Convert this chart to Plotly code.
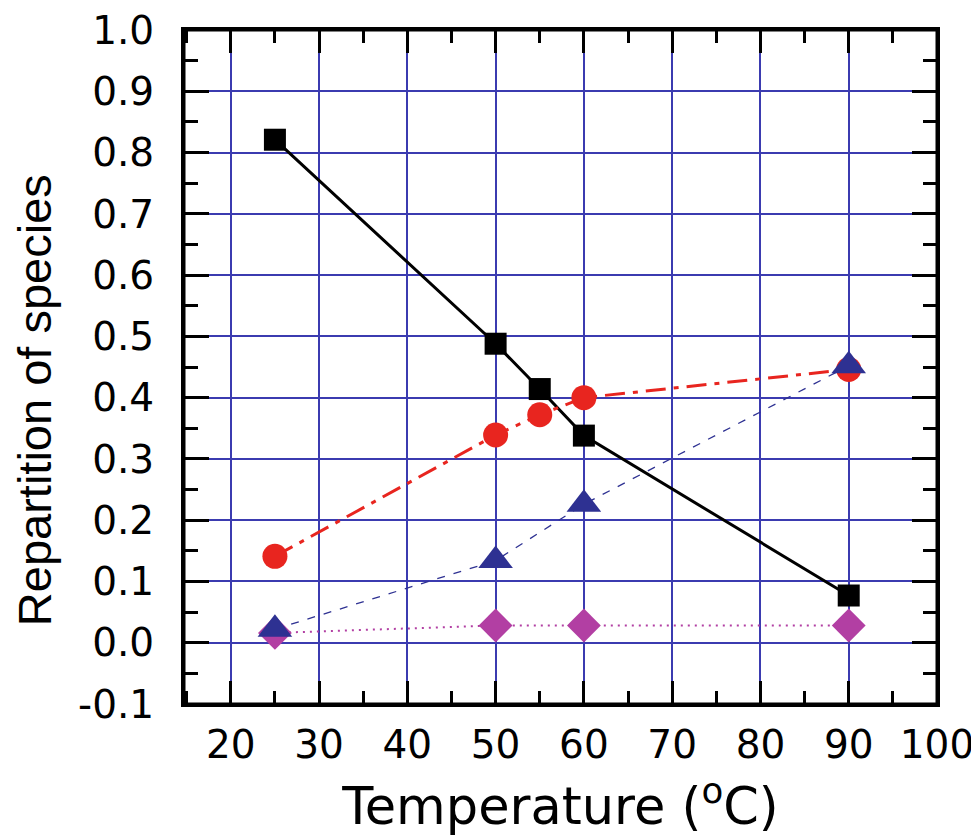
import plotly.graph_objects as go

temp_sq = [25, 50, 55, 60, 90]
sq_vals = [0.821, 0.488, 0.414, 0.338, 0.077]

temp_ci = [25, 50, 55, 60, 90]
ci_vals = [0.141, 0.339, 0.372, 0.400, 0.446]

temp_tr = [25, 50, 60, 90]
tr_vals = [0.022, 0.134, 0.226, 0.452]

temp_di = [25, 50, 60, 90]
di_vals = [0.016, 0.028, 0.028, 0.028]

x_ticks = [20, 30, 40, 50, 60, 70, 80, 90, 100]
y_ticks = [-0.1, 0.0, 0.1, 0.2, 0.3, 0.4, 0.5, 0.6, 0.7, 0.8, 0.9, 1.0]
y_ticktext = ["-0.1", "0.0", "0.1", "0.2", "0.3", "0.4", "0.5", "0.6", "0.7", "0.8", "0.9", "1.0"]

BLACK = "#000000"
RED = "#e8251f"
BLUE = "#2e3192"
MAGENTA = "#b23fa3"
GRID = "#3b3bb0"

fig = go.Figure()

fig.add_trace(go.Scatter(
    x=temp_sq, y=sq_vals, mode="lines+markers",
    line=dict(color=BLACK, width=3),
    marker=dict(symbol="square", size=22, color=BLACK),
    showlegend=False))

fig.add_trace(go.Scatter(
    x=temp_ci, y=ci_vals, mode="lines+markers",
    line=dict(color=RED, width=3, dash="20px,8px,5px,8px"),
    marker=dict(symbol="circle", size=25, color=RED),
    showlegend=False))

fig.add_trace(go.Scatter(
    x=temp_di, y=di_vals, mode="lines+markers",
    line=dict(color=MAGENTA, width=2, dash="2px,5px"),
    marker=dict(symbol="diamond", size=26, color=MAGENTA),
    showlegend=False))

fig.add_trace(go.Scatter(
    x=temp_tr, y=tr_vals, mode="lines+markers",
    line=dict(color=BLUE, width=1.3, dash="8px,9px"),
    marker=dict(symbol="triangle-up", size=30, color=BLUE),
    showlegend=False))

tickfont = dict(family="DejaVu Sans", size=39, color="black")

fig.update_xaxes(
    range=[14.7, 100.001], tickvals=x_ticks, automargin=False,
    showline=True, linecolor="black", linewidth=3, mirror="ticks",
    ticks="inside", ticklen=23, tickwidth=3, tickcolor="black",
    minor=dict(dtick=5, tick0=0, ticks="inside", ticklen=13, tickwidth=3, tickcolor="black", showgrid=False),
    showgrid=True, gridcolor=GRID, gridwidth=1.5,
    zeroline=False, tickfont=tickfont, ticklabelstandoff=4, ticklabeloverflow="allow",
    title=dict(text="Temperature (<sup>o</sup>C)", font=dict(family="DejaVu Sans", size=51, color="black"), standoff=23),
)
fig.update_yaxes(
    range=[-0.1001, 1.0001], tickvals=y_ticks, ticktext=y_ticktext, automargin=False,
    showline=True, linecolor="black", linewidth=3, mirror="ticks",
    ticks="inside", ticklen=25, tickwidth=3, tickcolor="black",
    minor=dict(dtick=0.05, tick0=0, ticks="inside", ticklen=14, tickwidth=3, tickcolor="black", showgrid=False),
    showgrid=True, gridcolor=GRID, gridwidth=1.5,
    zeroline=False, tickfont=tickfont, ticklabelstandoff=19, ticklabeloverflow="allow",
)

fig.add_annotation(
    text="Repartition of species", textangle=-90,
    xref="paper", yref="paper", x=-0.199, y=0.451,
    xanchor="center", yanchor="middle", showarrow=False,
    font=dict(family="Liberation Sans", size=47, color="black"),
)

# plot frame
fig.add_shape(type="rect", xref="paper", yref="paper", x0=0, y0=0, x1=1, y1=1,
              line=dict(color="black", width=3), layer="above")

fig.update_layout(
    width=971, height=829,
    margin=dict(l=176, r=42, t=22, b=133),
    plot_bgcolor="white", paper_bgcolor="white",
)

fig.write_html("out.html")
